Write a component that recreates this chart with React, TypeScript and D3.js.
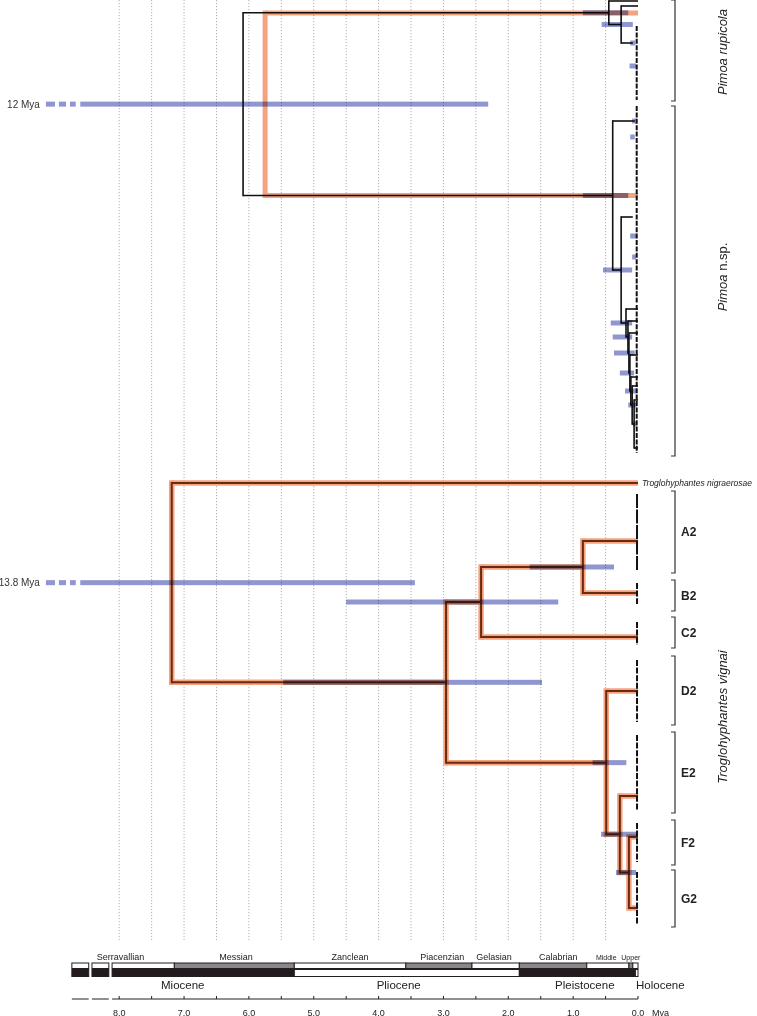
import React from "react";
import * as d3 from "d3";

const WIDTH = 757;
const HEIGHT = 1016;

// ---------- time axis (Mya) ----------
const AXIS_TICK_LABELS = [8, 7, 6, 5, 4, 3, 2, 1, 0];
const AXIS_MINOR_TICKS = [8, 7.5, 7, 6.5, 6, 5.5, 5, 4.5, 4, 3.5, 3, 2.5, 2, 1.5, 1, 0.5, 0];
const GRID_TIMES = [8, 7.5, 7, 6.5, 6, 5.5, 5, 4.5, 4, 3.5, 3, 2.5, 2, 1.5, 1, 0.5];
const AXIS_START = 8.11;
const AXIS_BREAKS: [number, number][] = [
  [8.73, 8.47],
  [8.42, 8.16],
];
// truncated HPD bars: solid part starts here, then dashes
const HPD_BREAK = 8.6;
const HPD_BREAK_DASHES: [number, number][] = [
  [9.13, 8.99],
  [8.93, 8.82],
  [8.76, 8.67],
];

const STAGE_BOXES = [
  { from: 8.73, to: 8.47, kind: "light" },
  { from: 8.42, to: 8.16, kind: "light" },
  { from: 8.11, to: 7.15, kind: "light" },
  { from: 7.15, to: 5.3, kind: "grey" },
  { from: 5.3, to: 3.58, kind: "light" },
  { from: 3.58, to: 2.56, kind: "grey" },
  { from: 2.56, to: 1.83, kind: "light" },
  { from: 1.83, to: 0.79, kind: "grey" },
  { from: 0.79, to: 0.14, kind: "light" },
  { from: 0.14, to: 0.08, kind: "grey" },
  { from: 0.08, to: 0.0, kind: "light" },
];
const STAGE_LABELS = [
  { name: "Serravallian", at: 7.98, small: false },
  { name: "Messian", at: 6.2, small: false },
  { name: "Zanclean", at: 4.44, small: false },
  { name: "Piacenzian", at: 3.02, small: false },
  { name: "Gelasian", at: 2.22, small: false },
  { name: "Calabrian", at: 1.23, small: false },
  { name: "Middle", at: 0.49, small: true },
  { name: "Upper", at: 0.11, small: true },
];
const EPOCH_BOXES = [
  { from: 8.73, to: 8.47, kind: "dark" },
  { from: 8.42, to: 8.16, kind: "dark" },
  { from: 8.11, to: 5.3, kind: "dark" },
  { from: 5.3, to: 1.83, kind: "light" },
  { from: 1.83, to: 0.04, kind: "dark" },
  { from: 0.04, to: 0.0, kind: "light" },
];
const EPOCH_LABELS = [
  { name: "Miocene", at: 7.02, anchor: "middle" },
  { name: "Pliocene", at: 3.69, anchor: "middle" },
  { name: "Pleistocene", at: 0.82, anchor: "middle" },
  { name: "Holocene", at: 0.03, anchor: "start" },
];

// ---------- trees (age in Mya, y in tip rows) ----------
type TreeNode = {
  age?: number;
  y?: number;
  hpd?: [number, number];
  children?: TreeNode[];
};

const PIMOA_TREE: TreeNode = {
  age: 6.09,
  hpd: [12, 2.31],
  children: [
    {
      age: 0.45,
      hpd: [0.85, 0.15],
      children: [
        { y: 0.1 },
        {
          age: 0.26,
          hpd: [0.56, 0.08],
          children: [{ y: 0.6 }, { age: 0.08, y: 4.3, hpd: [0.12, 0.04] }],
        },
      ],
    },
    {
      age: 0.39,
      hpd: [0.85, 0.15],
      children: [
        { age: 0.05, y: 12.1, hpd: [0.09, 0.03] },
        {
          age: 0.26,
          hpd: [0.54, 0.09],
          children: [
            { age: 0.08, y: 21.7 },
            {
              age: 0.185,
              hpd: [0.42, 0.09],
              children: [
                { y: 30.9 },
                {
                  age: 0.155,
                  hpd: [0.39, 0.09],
                  children: [
                    { y: 32.1 },
                    {
                      age: 0.14,
                      hpd: [0.37, 0.05],
                      children: [
                        { y: 33.3 },
                        {
                          age: 0.125,
                          hpd: [0.28, 0.06],
                          children: [
                            { y: 35.5 },
                            {
                              age: 0.11,
                              hpd: [0.2, 0.03],
                              children: [
                                { y: 37.7 },
                                {
                                  age: 0.09,
                                  hpd: [0.15, 0.02],
                                  children: [
                                    { y: 38.6 },
                                    {
                                      age: 0.06,
                                      hpd: [0.08, 0.02],
                                      children: [{ y: 40.0 }, { y: 44.8 }],
                                    },
                                  ],
                                },
                              ],
                            },
                          ],
                        },
                      ],
                    },
                  ],
                },
              ],
            },
          ],
        },
      ],
    },
  ],
};

// alternative (highlighted) Pimoa topology
const PIMOA_HIGHLIGHT: TreeNode = {
  age: 5.75,
  children: [{ y: 1.3 }, { y: 19.55 }],
};

const TROG_TREE: TreeNode = {
  age: 7.19,
  hpd: [13.8, 3.44],
  children: [
    { y: 48.3 },
    {
      age: 2.96,
      hpd: [5.47, 1.48],
      children: [
        {
          age: 2.42,
          hpd: [4.5, 1.23],
          children: [
            { age: 0.85, hpd: [1.67, 0.37], children: [{ y: 54.1 }, { y: 59.3 }] },
            { y: 63.7 },
          ],
        },
        {
          age: 0.49,
          hpd: [0.7, 0.18],
          children: [
            { y: 69.1 },
            {
              age: 0.28,
              hpd: [0.57, 0.02],
              children: [
                { y: 79.6 },
                { age: 0.14, hpd: [0.34, 0.03], children: [{ y: 83.7 }, { y: 90.8 }] },
              ],
            },
          ],
        },
      ],
    },
  ],
};

const EXTRA_HPD = [
  { y: 6.6, from: 0.13, to: 0.03 },
  { y: 13.7, from: 0.12, to: 0.05 },
  { y: 23.6, from: 0.12, to: 0.03 },
  { y: 25.7, from: 0.09, to: 0.03 },
];

// collapsed tip columns [y0, y1]
const PIMOA_COLUMNS: [number, number][] = [
  [2.6, 10.0],
  [10.6, 20.6],
  [20.8, 30.3],
  [30.5, 45.3],
];
const TROG_COLUMNS: [number, number][] = [
  [49.4, 57.0],
  [58.3, 60.4],
  [62.2, 64.5],
  [66.0, 72.2],
  [73.5, 81.0],
  [82.3, 86.2],
  [87.2, 92.5],
];

const CLADE_BRACKETS = [
  { name: "A2", y0: 49.1, y1: 57.3 },
  { name: "B2", y0: 58.0, y1: 61.1 },
  { name: "C2", y0: 61.7, y1: 64.8 },
  { name: "D2", y0: 65.6, y1: 72.5 },
  { name: "E2", y0: 73.2, y1: 81.3 },
  { name: "F2", y0: 82.0, y1: 86.5 },
  { name: "G2", y0: 87.0, y1: 92.7 },
];
const GROUP_BRACKETS = [
  { y0: 0.0, y1: 10.1 },
  { y0: 10.6, y1: 45.6 },
];
const GROUP_LABELS = [
  { parts: [{ text: "Pimoa rupicola", italic: true }], at: 5.2 },
  {
    parts: [
      { text: "Pimoa", italic: true },
      { text: " n.sp.", italic: false },
    ],
    at: 27.7,
  },
  { parts: [{ text: "Troglohyphantes vignai", italic: true }], at: 71.7 },
];
const OUTGROUP_LABEL = { text: "Troglohyphantes nigraerosae", y: 48.3 };

// ---------- helpers ----------
function layoutTree(node: TreeNode): TreeNode {
  const kids = node.children ? node.children.map(layoutTree) : undefined;
  const yy = kids ? (d3.mean(kids, (k) => k.y as number) as number) : (node.y as number);
  return { ...node, children: kids, y: yy };
}
type Seg = { t1: number; t2: number; y1: number; y2: number; vertical: boolean };
type Bar = { y: number; from: number; to: number };
function collect(n: TreeNode, segs: Seg[], bars: Bar[]) {
  if (n.hpd) bars.push({ y: n.y as number, from: n.hpd[0], to: n.hpd[1] });
  if (!n.children) return;
  const ext = d3.extent(n.children, (c) => c.y as number) as [number, number];
  segs.push({ t1: n.age as number, t2: n.age as number, y1: ext[0], y2: ext[1], vertical: true });
  for (const c of n.children) {
    segs.push({ t1: n.age as number, t2: c.age ?? 0, y1: c.y as number, y2: c.y as number, vertical: false });
    collect(c, segs, bars);
  }
}
function treeParts(t: TreeNode) {
  const segs: Seg[] = [];
  const bars: Bar[] = [];
  collect(layoutTree(t), segs, bars);
  return { segs, bars };
}

const FONT = "'Liberation Sans', Arial, Helvetica, sans-serif";
const BLUE = "#9097d0";
const SALMON = "#f5a37f";
const BROWN = "#6a2a12";
const INK = "#231f20";
const FILLS: Record<string, string> = { light: "#ffffff", grey: "#8b8689", dark: "#231a20" };

export default function App() {
  const x = d3.scaleLinear().domain([8, 0]).range([119.2, 638]);
  const y = d3.scaleLinear().domain([0, 100]).range([0, 1000]);

  const pimoa = treeParts(PIMOA_TREE);
  const hl = treeParts(PIMOA_HIGHLIGHT);
  const trog = treeParts(TROG_TREE);
  const allBars = [...pimoa.bars, ...trog.bars, ...EXTRA_HPD];

  const barH = 5;
  const gridBottom = y(94);
  const stageY = 963;
  const epochY = 969.5;
  const axisY = 999;
  const bracketX = 675;

  const segLine = (s: Seg, i: number, stroke: string, w: number, extra: any = {}) => (
    <line
      key={i}
      x1={x(s.t1)}
      x2={x(s.t2)}
      y1={y(s.y1)}
      y2={y(s.y2)}
      stroke={stroke}
      strokeWidth={w}
      strokeLinecap={s.vertical ? "square" : "butt"}
      {...extra}
    />
  );

  return (
    <svg
      width={WIDTH}
      height={HEIGHT}
      style={{ position: "absolute", left: 0, top: 0, background: "#fff" }}
      fontFamily={FONT}
    >
      <rect width={WIDTH} height={HEIGHT} fill="#fff" />
      {/* grid */}
      <g>
        {GRID_TIMES.map((t) => (
          <line
            key={t}
            x1={x(t)}
            x2={x(t)}
            y1={0}
            y2={gridBottom}
            stroke="#9a9a9a"
            strokeWidth={0.8}
            strokeDasharray="1.2 1.8"
          />
        ))}
      </g>

      {/* Pimoa black tree */}
      <g>{pimoa.segs.map((s, i) => segLine(s, i, "#111", 1.6))}</g>
      {/* Pimoa highlighted topology */}
      <g style={{ mixBlendMode: "multiply" }}>
        {hl.segs.map((s, i) => segLine(s, i, SALMON, 5))}
      </g>

      {/* Troglohyphantes tree: halo + line */}
      <g>{trog.segs.map((s, i) => segLine(s, i, SALMON, 5.5))}</g>
      <g>{trog.segs.map((s, i) => segLine(s, i, BROWN, 2))}</g>

      {/* collapsed tip columns */}
      <g>
        {PIMOA_COLUMNS.map((c, i) => (
          <line
            key={i}
            x1={x(0.02)}
            x2={x(0.02)}
            y1={y(c[0])}
            y2={y(c[1])}
            stroke="#111"
            strokeWidth={2}
            strokeDasharray="5 1.4"
          />
        ))}
        {TROG_COLUMNS.map((c, i) => (
          <line
            key={i}
            x1={x(0.015)}
            x2={x(0.015)}
            y1={y(c[0])}
            y2={y(c[1])}
            stroke="#111"
            strokeWidth={2}
            strokeDasharray={i === 0 ? "14 1.5" : "6 1.6"}
          />
        ))}
      </g>

      {/* HPD bars */}
      <g style={{ mixBlendMode: "multiply" }}>
        {allBars.map((b, i) => {
          const broken = b.from > HPD_BREAK;
          const x0 = x(broken ? HPD_BREAK : b.from);
          return (
            <g key={i}>
              <rect x={x0} y={y(b.y) - barH / 2} width={x(b.to) - x0} height={barH} fill={BLUE} />
              {broken &&
                HPD_BREAK_DASHES.map((d, j) => (
                  <rect
                    key={j}
                    x={x(d[0])}
                    y={y(b.y) - barH / 2}
                    width={x(d[1]) - x(d[0])}
                    height={barH}
                    fill={BLUE}
                  />
                ))}
            </g>
          );
        })}
      </g>
      <g>
        {allBars
          .filter((b) => b.from > HPD_BREAK)
          .map((b, i) => (
            <text
              key={i}
              x={x(HPD_BREAK_DASHES[0][0]) - 6}
              y={y(b.y)}
              dy="0.35em"
              textAnchor="end"
              fontSize={10}
              fill="#333"
            >
              {`${b.from} Mya`}
            </text>
          ))}
      </g>

      {/* outgroup label */}
      <text
        x={x(0) + 4}
        y={y(OUTGROUP_LABEL.y)}
        dy="0.35em"
        fontSize={8.5}
        fontStyle="italic"
        fill="#222"
      >
        {OUTGROUP_LABEL.text}
      </text>

      {/* brackets */}
      <g stroke="#333" strokeWidth={1.2} fill="none">
        {[...GROUP_BRACKETS, ...CLADE_BRACKETS].map((b, i) => (
          <path
            key={i}
            d={`M${bracketX - 4},${y(b.y0)}H${bracketX}V${y(b.y1)}H${bracketX - 4}`}
          />
        ))}
      </g>
      <g>
        {CLADE_BRACKETS.map((b) => (
          <text
            key={b.name}
            x={bracketX + 6}
            y={y((b.y0 + b.y1) / 2)}
            dy="0.36em"
            fontSize={12}
            fontWeight="bold"
            fill="#222"
          >
            {b.name}
          </text>
        ))}
      </g>
      <g>
        {GROUP_LABELS.map((g, i) => (
          <text
            key={i}
            transform={`translate(727,${y(g.at)}) rotate(-90)`}
            textAnchor="middle"
            fontSize={13}
            fill="#222"
          >
            {g.parts.map((p, j) => (
              <tspan key={j} fontStyle={p.italic ? "italic" : "normal"}>
                {p.text}
              </tspan>
            ))}
          </text>
        ))}
      </g>

      {/* geological time scale */}
      <g stroke={INK} strokeWidth={1}>
        {STAGE_BOXES.map((b, i) => (
          <rect
            key={i}
            x={x(b.from)}
            y={stageY}
            width={x(b.to) - x(b.from)}
            height={5.5}
            fill={FILLS[b.kind]}
          />
        ))}
        {EPOCH_BOXES.map((b, i) => (
          <rect
            key={i}
            x={x(b.from)}
            y={epochY}
            width={x(b.to) - x(b.from)}
            height={7}
            fill={FILLS[b.kind]}
          />
        ))}
      </g>
      <g fill="#222">
        {STAGE_LABELS.map((s) => (
          <text
            key={s.name}
            x={x(s.at)}
            y={960}
            textAnchor="middle"
            fontSize={s.small ? 7 : 9}
          >
            {s.name}
          </text>
        ))}
        {EPOCH_LABELS.map((s) => (
          <text key={s.name} x={x(s.at)} y={989} textAnchor={s.anchor as any} fontSize={11.5}>
            {s.name}
          </text>
        ))}
      </g>

      {/* axis */}
      <g stroke={INK} strokeWidth={1}>
        <line x1={x(AXIS_START)} x2={x(0)} y1={axisY} y2={axisY} />
        {AXIS_BREAKS.map((b, i) => (
          <line key={i} x1={x(b[0])} x2={x(b[1])} y1={axisY} y2={axisY} />
        ))}
        {AXIS_MINOR_TICKS.map((t) => (
          <line key={t} x1={x(t)} x2={x(t)} y1={axisY} y2={axisY - 3} />
        ))}
      </g>
      <g fill="#222" fontSize={9}>
        {AXIS_TICK_LABELS.map((t) => (
          <text key={t} x={x(t)} y={1015.5} textAnchor="middle">
            {t.toFixed(1)}
          </text>
        ))}
        <text x={x(0) + 14} y={1015.5}>
          Mya
        </text>
      </g>
    </svg>
  );
}
